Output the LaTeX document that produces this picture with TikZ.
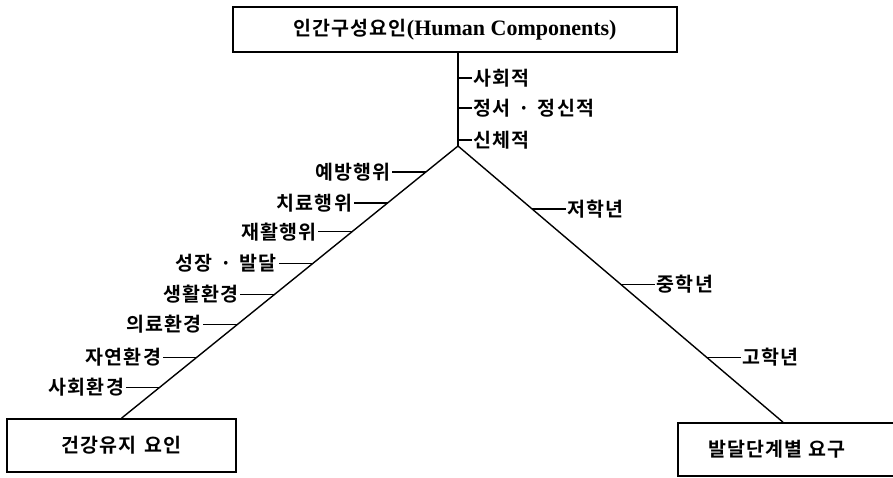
\documentclass[tikz,border=0pt]{standalone}
\usepackage{fontspec}
\newfontfamily\krb{Noto Sans CJK KR Bold}[LetterSpace=6,WordSpace=1.4]
\newfontfamily\latserif{Liberation Serif}
\usetikzlibrary{calc}
\newcommand\labfont{\krb\fontsize{19.5}{21}\selectfont}
\begin{document}
\begin{tikzpicture}[x=1pt,y=-1pt,
  box/.style={draw,line width=1.6pt,inner sep=0pt,font=\labfont},
  lineseg/.style={line width=1.4pt},
  lbl/.style={font=\labfont,inner sep=1.5pt}]
\useasboundingbox (0,0) rectangle (893,477);
\node[box,minimum width=444pt,minimum height=45pt] (top) at (455,29.5)
  {인간구성요인{\latserif\bfseries\fontsize{22}{24}\selectfont(Human Components)}};
\coordinate (apex) at (458,146);
\node[box,minimum width=229pt,minimum height=53pt] (lbox) at (121.5,445.5) {건강유지 요인};
\node[box,minimum height=53pt,text width=240pt,align=left] (rbox) at (798,449.5) {\hspace*{30pt}발달단계별 요구};
\coordinate (rend) at (rbox.north west -| 783,0);
\draw[lineseg] (apex |- top.south) -- (apex);
\draw[lineseg] (apex) -- (lbox.north);
\draw[lineseg] (apex) -- (rend);
% vertical ticks
\foreach \y/\t/\n in {78/사회적/v1, 108/정서 · 정신적/v2, 140/신체적/v3}{
  \node[lbl,anchor=west] (t\n) at (472,\y) {\t};
  \coordinate (p\n) at (apex |- t\n.west);
  \draw[lineseg] (p\n) -- (t\n.west);
}
% left diagonal ticks
\path (apex) -- (lbox.north)
  coordinate[pos=0.0952] (l1) coordinate[pos=0.2088] (l2)
  coordinate[pos=0.3150] (l3) coordinate[pos=0.4322] (l4)
  coordinate[pos=0.5458] (l5) coordinate[pos=0.6557] (l6)
  coordinate[pos=0.7766] (l7) coordinate[pos=0.8864] (l8);
\foreach \i/\t in {1/예방행위, 2/치료행위, 3/재활행위, 4/성장 · 발달, 5/생활환경, 6/의료환경, 7/자연환경, 8/사회환경}{
  \node[lbl,anchor=east] (tl\i) at ($(l\i)+(-34,0)$) {\t};
  \draw[lineseg] (l\i) -- (tl\i.east);
}
% right diagonal ticks
\path (apex) -- (rend)
  coordinate[pos=0.2274] (r1) coordinate[pos=0.5018] (r2) coordinate[pos=0.7653] (r3);
\foreach \i/\t in {1/저학년, 2/중학년, 3/고학년}{
  \node[lbl,anchor=west] (tr\i) at ($(r\i)+(34,0)$) {\t};
  \draw[lineseg] (r\i) -- (tr\i.west);
}
\end{tikzpicture}
\end{document}
